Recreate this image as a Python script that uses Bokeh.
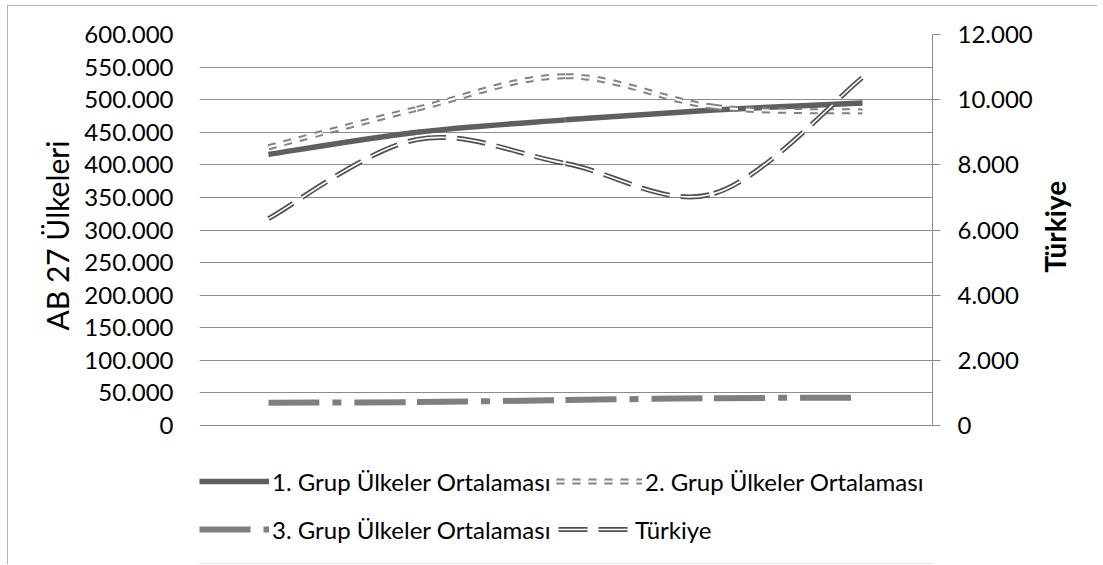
import math
import numpy as np
from bokeh.plotting import figure
from bokeh.models import Range1d, LinearAxis, FixedTicker, Legend, LegendItem, ColumnDataSource, Title
from bokeh.core.properties import value
from bokeh.embed import file_html
from bokeh.resources import INLINE

# ---- data (five unlabeled categories) ----
positions = [1, 2, 3, 4, 5]
grup1 = [416000, 450000, 469000, 484000, 495000]
grup2 = [427000, 486000, 536000, 489000, 482000]
grup3 = [35000, 36000, 39000, 42000, 42500]
turkiye = [6350, 8780, 8040, 7120, 10680]

series_names = ["1. Grup Ülkeler Ortalaması", "2. Grup Ülkeler Ortalaması",
                "3. Grup Ülkeler Ortalaması", "Türkiye"]
left_title = "AB 27 Ülkeleri"
right_title = "Türkiye"

left_ticks = [0, 50000, 100000, 150000, 200000, 250000, 300000,
              350000, 400000, 450000, 500000, 550000, 600000]
left_labels = ["0", "50.000", "100.000", "150.000", "200.000", "250.000", "300.000",
               "350.000", "400.000", "450.000", "500.000", "550.000", "600.000"]
right_ticks = [0, 2000, 4000, 6000, 8000, 10000, 12000]
right_labels = ["0", "2.000", "4.000", "6.000", "8.000", "10.000", "12.000"]

FONT = "Lato"
GRID = "#8c8c8c"

# plot area spans the legend zone too; value axes are bounded to their data range
LEFT_MAX = 600000
RIGHT_MAX = 12000
EXTRA = 138.0 / 391.0  # share of the value span below zero (legend zone)


def smooth_source(xs, ys):
    """Bezier control points (Catmull-Rom style smoothing, like a smoothed line)."""
    x = np.asarray(xs, float)
    y = np.asarray(ys, float)
    n = len(x)
    xp = np.concatenate([[x[0]], x, [x[-1]]])
    yp = np.concatenate([[y[0]], y, [y[-1]]])
    return ColumnDataSource(dict(
        x0=x[:-1], y0=y[:-1], x1=x[1:], y1=y[1:],
        cx0=xp[1:n] + (xp[2:n + 1] - xp[0:n - 1]) / 6.0,
        cy0=yp[1:n] + (yp[2:n + 1] - yp[0:n - 1]) / 6.0,
        cx1=xp[2:n + 1] - (xp[3:n + 2] - xp[1:n]) / 6.0,
        cy1=yp[2:n + 1] - (yp[3:n + 2] - yp[1:n]) / 6.0,
    ))


p = figure(width=1090, height=559, output_backend="svg", toolbar_location=None,
           x_range=Range1d(0.5354, 5.4714),
           y_range=Range1d(-EXTRA * LEFT_MAX, LEFT_MAX),
           x_axis_location=None, min_border_left=192, min_border_right=165,
           min_border_top=29, min_border_bottom=1)
p.extra_y_ranges = {"tr": Range1d(-EXTRA * RIGHT_MAX, RIGHT_MAX)}
p.outline_line_color = None
p.background_fill_color = "white"
p.border_fill_color = "white"
p.styles = {"margin-left": "7px", "margin-top": "5px",
            "outline": "1px solid #9a9a9a", "outline-offset": "-1px"}

# grid
p.xgrid.visible = False
p.ygrid.ticker = FixedTicker(ticks=left_ticks)
p.ygrid.grid_line_color = GRID
p.ygrid.grid_line_width = 1

# left axis
ya = p.yaxis[0]
ya.bounds = (0, LEFT_MAX)
ya.ticker = FixedTicker(ticks=left_ticks)
ya.major_label_overrides = dict(zip(left_ticks, left_labels))
ya.axis_line_color = None
ya.major_tick_line_color = None
ya.major_tick_out = 0
ya.major_tick_in = 0
ya.minor_tick_line_color = None
ya.major_label_standoff = 26
ya.major_label_text_font = FONT
ya.major_label_text_font_size = "24px"
ya.major_label_text_color = "#000000"

# left title, placed along the value span (offset from the bottom of the plot area)
p.add_layout(Title(text=left_title, align="left", offset=233, standoff=14,
                   text_font=FONT, text_font_size="30px", text_font_style="normal",
                   text_color="#000000"), "left")

# right axis
ra = LinearAxis(y_range_name="tr", ticker=FixedTicker(ticks=right_ticks), bounds=(0, RIGHT_MAX))
ra.major_label_overrides = dict(zip(right_ticks, right_labels))
ra.axis_line_color = GRID
ra.axis_line_width = 1
ra.major_tick_line_color = GRID
ra.major_tick_out = 8
ra.major_tick_in = 0
ra.minor_tick_line_color = None
ra.major_label_standoff = 17
ra.major_label_text_font = FONT
ra.major_label_text_font_size = "24px"
ra.major_label_text_color = "#000000"
ra.axis_label = "\u00a0\u00a0\u00a0\u00a0" + right_title
ra.axis_label_text_font = FONT
ra.axis_label_text_font_size = "28px"
ra.axis_label_text_font_style = "bold"
ra.axis_label_text_color = "#000000"
ra.axis_label_standoff = 19
if "axis_label_orientation" in ra.properties():
    ra.axis_label_orientation = math.pi / 2
p.add_layout(ra, "right")

# series
r1 = p.bezier(x0="x0", y0="y0", x1="x1", y1="y1", cx0="cx0", cy0="cy0", cx1="cx1", cy1="cy1",
              source=smooth_source(positions, grup1), line_color="#5f5f5f", line_width=5.5)

src2 = smooth_source(positions, grup2)
r2a = p.bezier(x0="x0", y0="y0", x1="x1", y1="y1", cx0="cx0", cy0="cy0", cx1="cx1", cy1="cy1",
               source=src2, line_color="#828282", line_width=6, line_dash="8 8")
r2b = p.bezier(x0="x0", y0="y0", x1="x1", y1="y1", cx0="cx0", cy0="cy0", cx1="cx1", cy1="cy1",
               source=src2, line_color="white", line_width=2, line_dash="8 8")

r3 = p.bezier(x0="x0", y0="y0", x1="x1", y1="y1", cx0="cx0", cy0="cy0", cx1="cx1", cy1="cy1",
              source=smooth_source(positions, grup3), line_color="#7f7f7f", line_width=6,
              line_dash="51 13 9 13")

src4 = smooth_source(positions, turkiye)
r4a = p.bezier(x0="x0", y0="y0", x1="x1", y1="y1", cx0="cx0", cy0="cy0", cx1="cx1", cy1="cy1",
               source=src4, y_range_name="tr", line_color="#4f4f4f", line_width=5, line_dash="29 11")
r4b = p.bezier(x0="x0", y0="y0", x1="x1", y1="y1", cx0="cx0", cy0="cy0", cx1="cx1", cy1="cy1",
               source=src4, y_range_name="tr", line_color="white", line_width=1.6, line_dash="29 11")


def add_legend(renderers, label, loc, gw):
    lg = Legend(items=[LegendItem(label=value(label), renderers=renderers)],
                location=loc, orientation="horizontal", padding=0, margin=0, spacing=0,
                glyph_width=gw, glyph_height=30, label_height=30, label_standoff=3,
                label_text_font=FONT, label_text_font_size="24px", label_text_color="#000000",
                border_line_color=None, background_fill_alpha=0)
    p.add_layout(lg, "center")


add_legend([r1], series_names[0], (0, 67), 70)
add_legend([r2a, r2b], series_names[1], (357, 67), 86)
add_legend([r3], series_names[2], (0, 19), 70)
add_legend([r4a, r4b], series_names[3], (359, 19), 74)

open("out.html", "w").write(file_html(p, INLINE))
